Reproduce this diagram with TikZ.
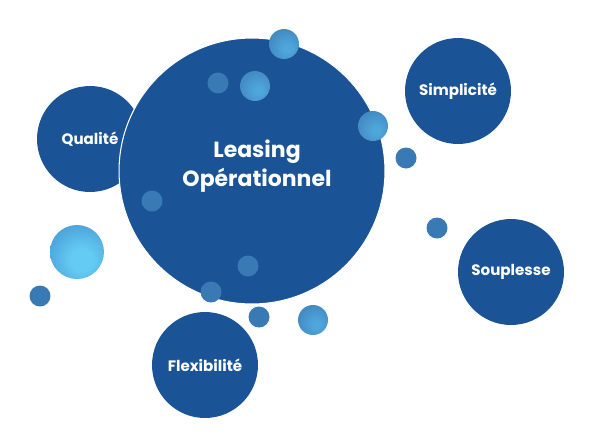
\documentclass[tikz,border=0pt]{standalone}
\usepackage{fontspec}
\setmainfont{Poppins}
\usepackage{tikz}
\usetikzlibrary{positioning}

\definecolor{bubbleblue}{HTML}{1A5497}
\definecolor{dropblue}{HTML}{3A7AB4}
\definecolor{dropglow}{HTML}{4FA6DA}
\definecolor{skyout}{HTML}{3C84C6}
\definecolor{skyglow}{HTML}{64CCF4}

% shaded droplets, light spot a bit below right
\pgfdeclareradialshading{dropshade}{\pgfpoint{6bp}{-8bp}}{%
  color(0bp)=(dropglow); color(6bp)=(dropglow);
  color(46bp)=(dropblue); color(100bp)=(dropblue)}
\pgfdeclareradialshading{skyshade}{\pgfpoint{5bp}{-8bp}}{%
  color(0bp)=(skyglow); color(10bp)=(skyglow);
  color(48bp)=(skyout); color(100bp)=(skyout)}

\begin{document}
\begin{tikzpicture}[
    x=0.02cm, y=-0.02cm,
    % --- STYLES ---
    hub/.style={
        circle, fill=bubbleblue,
        draw=white, line width=0.6pt,
        minimum size=5.32cm, inner sep=0pt
    },
    petal/.style={
        circle, fill=bubbleblue,
        minimum size=2.12cm, inner sep=0pt,
        text=white, align=center,
        font=\fontsize{8.6}{10}\selectfont\bfseries
    },
    drop/.style={circle, fill=dropblue, minimum size=0.42cm, inner sep=0pt},
    glowdrop/.style={circle, shading=dropshade, minimum size=0.6cm, inner sep=0pt},
    skydrop/.style={circle, shading=skyshade, minimum size=1.08cm, inner sep=0pt}
]
\useasboundingbox (0,0) rectangle (604,447);

% ===== 1. PETALS =====
\node[petal] (quality) at (90,139) {Qualit\'e};
\node[petal] (simple) at (458,91) {Simplicit\'e};
\node[petal] (supple) at (511,272) {Souplesse};
\node[petal] (flexible) at (205,365) {Flexibilit\'e};

% ===== 2. CENTRE =====
\node[hub] (hub) at (252,171) {};
\node[text=white, align=center,
      font=\fontsize{12.5}{16.5}\selectfont\bfseries] (hubtitle) at (257,166) {Leasing\\ Op\'erationnel};

% ===== 3. DROPLETS =====
% shaded ones
\node[glowdrop] (dropA) at (284,44) {};
\node[glowdrop] (dropB) at (255,86) {};
\node[glowdrop] (dropC) at (373,126) {};
\node[glowdrop] (dropD) at (313,320) {};
\node[skydrop] (dropE) at (77,252) {};

% flat ones
\node[drop] (dotA) at (218,83) {};
\node[drop] (dotB) at (152,201) {};
\node[drop] (dotC) at (406,158) {};
\node[drop] (dotD) at (437,228) {};
\node[drop] (dotE) at (40,296) {};
\node[drop] (dotF) at (248,266) {};
\node[drop] (dotG) at (211,292) {};
\node[drop] (dotH) at (259,317) {};

\end{tikzpicture}
\end{document}
